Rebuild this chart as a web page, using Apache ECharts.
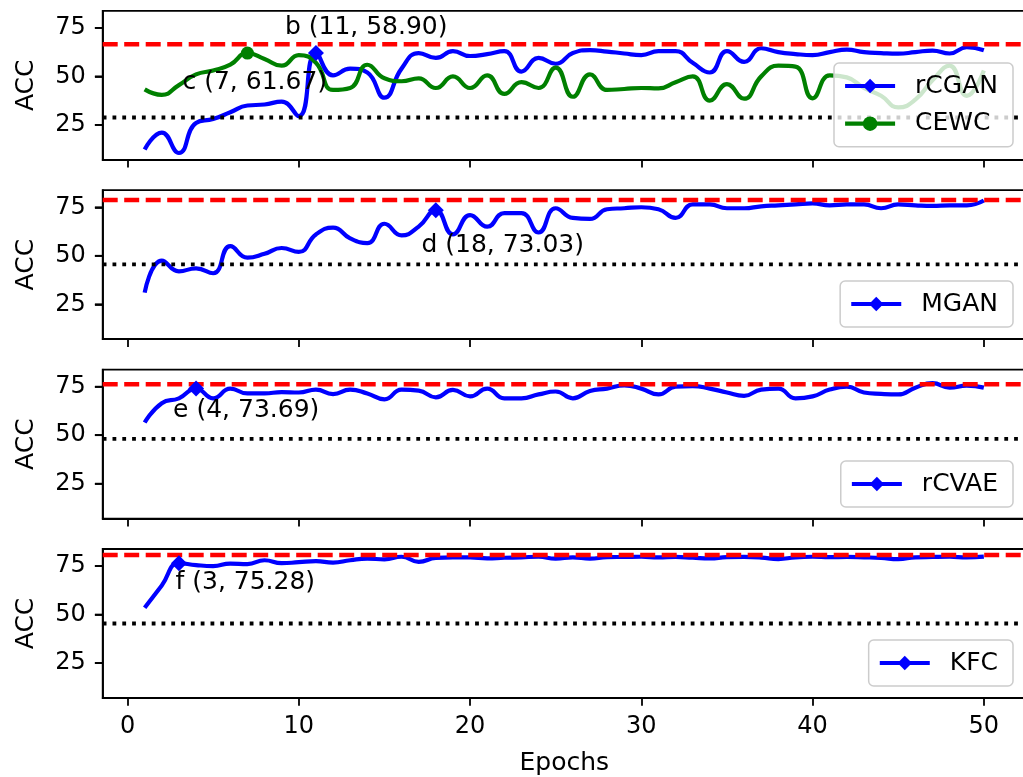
<!DOCTYPE html>
<html><head><meta charset="utf-8">
<script src="https://cdn.jsdelivr.net/npm/echarts@6/dist/echarts.min.js"></script>
<style>html,body{margin:0;padding:0;background:#fff;overflow:hidden;width:1023px;height:777px}#c{width:1030px;height:777px}</style>
</head><body><div id="c"></div>
<script>
// ---------------- data ----------------
const epochs = [1,2,3,4,5,6,7,8,9,10,11,12,13,14,15,16,17,18,19,20,21,22,23,24,25,26,27,28,29,30,31,32,33,34,35,36,37,38,39,40,41,42,43,44,45,46,47,48,49,50];
const rcganAcc = [12.3,21,10.5,26,28,31.5,35,35.5,37,29.5,62,50.5,54,52,39,54,62,59.5,63,60.5,61.5,63,52.5,59.5,56.5,62,63.5,62.8,61.8,61,63,63,57,52,63,57.5,64.5,62.5,61.5,61,62.5,63.8,62.5,62,61.7,62.5,63.3,61.8,65,63.5];
const cewcAcc  = [43.3,40.5,45.5,51,53,56,62,59,55.5,61,57,43,44,56,49,47.5,49,44,50,44,50.5,41,47,44,54.5,39.5,51,43,43.5,44,43.8,47,50,37.5,46,38.5,50,55.5,55,38.7,50.5,49.5,44,40,34,38,48,55.5,40,53];
const mganAcc  = [31,47.5,42,43.5,41,55,49,51,54,52,61,64.5,59,56.5,66.5,60.5,65,73.5,61,71,65,72,72,62,74.5,69.5,69,74,74.5,75,74,69.5,76.5,76.5,74.5,74.5,75.5,76,76.5,77,76,76.5,76.5,74.5,76.5,76,75.7,76,76,78.5];
const rcvaeAcc = [56.5,66.5,69,74,69,74,71.5,71.5,72.2,72,73.5,71.2,73.5,71.5,68.5,73.5,73,69.5,73.3,70,74,69,69,71,72.5,69,72.8,74,75.7,74,71,75,75.3,74,72,70.3,73.5,74,69,70,73.5,75,72,71.3,71,74.5,76.8,74.5,75.5,74.5];
const kfcAcc   = [53.5,65,76.5,75.5,75,76.3,76,78,76.5,77,77.5,76.8,78,78.8,78.5,79.8,77.2,79.2,79.5,79.5,79,79.3,79.5,79.8,78.8,79.5,78.8,79.6,79.7,79.8,79.5,79.7,79.3,78.9,79.6,79.7,79.4,78.6,79.5,79.8,79.6,79.7,79.5,79.2,78.6,79.5,79.7,79.8,79.5,79.9];
const seriesNames = ['rCGAN','CEWC','MGAN','rCVAE','KFC'];
const markedEpochs = [11, 7, 18, 4, 3];           // epoch of the highlighted point per series
const upperRef = [66.5, 78.8, 76.2, 80.7];        // red dashed line per panel
const lowerRef = [28.8, 45.6, 48.1, 45.4];        // black dotted line per panel
const xTicks = [0,10,20,30,40,50];
const yTicks = [25,50,75];
const annotationText = ['b (11, 58.90)','c (7, 61.67)','d (18, 73.03)','e (4, 73.69)','f (3, 75.28)'];
const annotationPanel = [0, 0, 1, 2, 3];
const annotationX = [9.19, 3.21, 17.16, 2.66, 2.8];
const annotationY = [75.4, 47.0, 55.2, 62.8, 66.5];

// ---------------- layout / style ----------------
const FONT = 'DejaVu Sans';
const XMIN = -1.45, XMAX = 52.45, YMIN = 7.0, YMAX = 83.8;
const panelTop = [10.8, 190.2, 369.6, 549];
const panelH = 149;
const legendTop = [63, 281, 461, 640];
const BLUE = '#0000ff', GREEN = '#008000', RED = '#ff0000';
const TICK_LEN = 7.8, TICK_W = 1.8;

const panels = [
  {curves: [{name:'rCGAN', data: rcganAcc, color: BLUE, symbol:'diamond', mark: markedEpochs[0]},
            {name:'CEWC',  data: cewcAcc,  color: GREEN, symbol:'circle', mark: markedEpochs[1]}]},
  {curves: [{name:'MGAN',  data: mganAcc,  color: BLUE, symbol:'diamond', mark: markedEpochs[2]}]},
  {curves: [{name:'rCVAE', data: rcvaeAcc, color: BLUE, symbol:'diamond', mark: markedEpochs[3]}]},
  {curves: [{name:'KFC',   data: kfcAcc,   color: BLUE, symbol:'diamond', mark: markedEpochs[4]}]}
];

const spine = {show: true, onZero: false, lineStyle: {color: '#000', width: TICK_W}};
const tick = (vals) => ({show: true, inside: false, customValues: vals, length: TICK_LEN, lineStyle: {color: '#000', width: TICK_W}});

const grid = [], xAxis = [], yAxis = [], series = [], legend = [];
panels.forEach((p, i) => {
  grid.push({left: 102.7, right: 4.2, top: panelTop[i], height: panelH, show: true,
             borderColor: '#000', borderWidth: 1.8, backgroundColor: 'transparent'});
  const last = i === panels.length - 1;
  xAxis.push({type: 'value', gridIndex: i, position: 'bottom', min: XMIN, max: XMAX,
    axisLine: spine, splitLine: {show: false}, axisTick: tick(xTicks),
    axisLabel: {show: last, customValues: xTicks, margin: 17, fontSize: 24, color: '#000', fontFamily: FONT},
    name: last ? 'Epochs' : '', nameLocation: 'middle', nameGap: 53,
    nameTextStyle: {fontSize: 25, color: '#000', fontFamily: FONT}});
  yAxis.push({type: 'value', gridIndex: i, position: 'left', min: YMIN, max: YMAX,
    axisLine: spine, splitLine: {show: false}, axisTick: tick(yTicks),
    axisLabel: {show: true, customValues: yTicks, margin: 17, fontSize: 24, color: '#000', fontFamily: FONT},
    name: 'ACC', nameLocation: 'middle', nameGap: 64,
    nameTextStyle: {fontSize: 25, color: '#000', fontFamily: FONT}});
  p.curves.forEach(c => {
    series.push({type: 'line', name: c.name, xAxisIndex: i, yAxisIndex: i,
      data: epochs.map((e, k) => [e, c.data[k]]), smooth: 0.5,
      symbol: c.symbol, showSymbol: false, color: c.color,
      lineStyle: {color: c.color, width: 4.2}, itemStyle: {color: c.color}, z: 2});
  });
  p.curves.forEach(c => {
    const k = epochs.indexOf(c.mark);
    series.push({type: 'scatter', name: c.name + '_mark', xAxisIndex: i, yAxisIndex: i,
      data: [[epochs[k], c.data[k]]], symbol: c.symbol,
      symbolSize: c.symbol === 'diamond' ? 16 : 13, itemStyle: {color: c.color, opacity: 1}, z: 2});
  });
  series.push({type: 'line', name: 'upper' + i, xAxisIndex: i, yAxisIndex: i,
    data: [[XMIN, upperRef[i]], [XMAX, upperRef[i]]], symbol: 'none',
    lineStyle: {color: RED, width: 4.5, type: [15, 6.5], cap: 'butt'}, z: 2});
  series.push({type: 'line', name: 'lower' + i, xAxisIndex: i, yAxisIndex: i,
    data: [[XMIN, lowerRef[i]], [XMAX, lowerRef[i]]], symbol: 'none',
    lineStyle: {color: '#000', width: 3.8, type: [3.8, 6], cap: 'butt'}, z: 2});
  legend.push({data: p.curves.map(c => c.name), orient: 'vertical', right: 17, top: legendTop[i],
    itemWidth: 50, itemHeight: 18, itemGap: 12.7,
    padding: [10.5, 15, 10.5, 9],
    lineStyle: {width: 4.2},
    backgroundColor: 'rgba(255,255,255,0.8)', borderColor: '#cccccc', borderWidth: 1.5, borderRadius: 5,
    textStyle: {fontSize: 25, color: '#000', fontFamily: FONT, lineHeight: 25, padding: [0, 0, 0, 15]},
    selectedMode: false});
});

annotationText.forEach((t, j) => {
  const i = annotationPanel[j];
  series.push({type: 'scatter', name: 'ann' + j, xAxisIndex: i, yAxisIndex: i,
    data: [{value: [annotationX[j], annotationY[j]], name: t}], symbolSize: 0.01,
    itemStyle: {color: '#000'}, z: 6,
    label: {show: true, position: 'right', distance: 0, formatter: '{b}',
      fontSize: 25, color: '#000', opacity: 1, fontFamily: FONT}});
});

const chart = echarts.init(document.getElementById('c'), null, {renderer: 'canvas'});
chart.setOption({animation: false, backgroundColor: '#fff',
  textStyle: {fontFamily: FONT}, grid, xAxis, yAxis, series, legend});

// y tick marks on the left spine, placed through the axes' own scales
const tickGraphics = [];
panels.forEach((p, i) => {
  yTicks.forEach(v => {
    const pt = chart.convertToPixel({gridIndex: i}, [XMIN, v]);
    tickGraphics.push({type: 'line', silent: true, z: 10,
      shape: {x1: pt[0] - TICK_LEN, y1: pt[1], x2: pt[0], y2: pt[1]},
      style: {stroke: '#000', lineWidth: TICK_W}});
  });
});
chart.setOption({graphic: tickGraphics});
</script></body></html>
